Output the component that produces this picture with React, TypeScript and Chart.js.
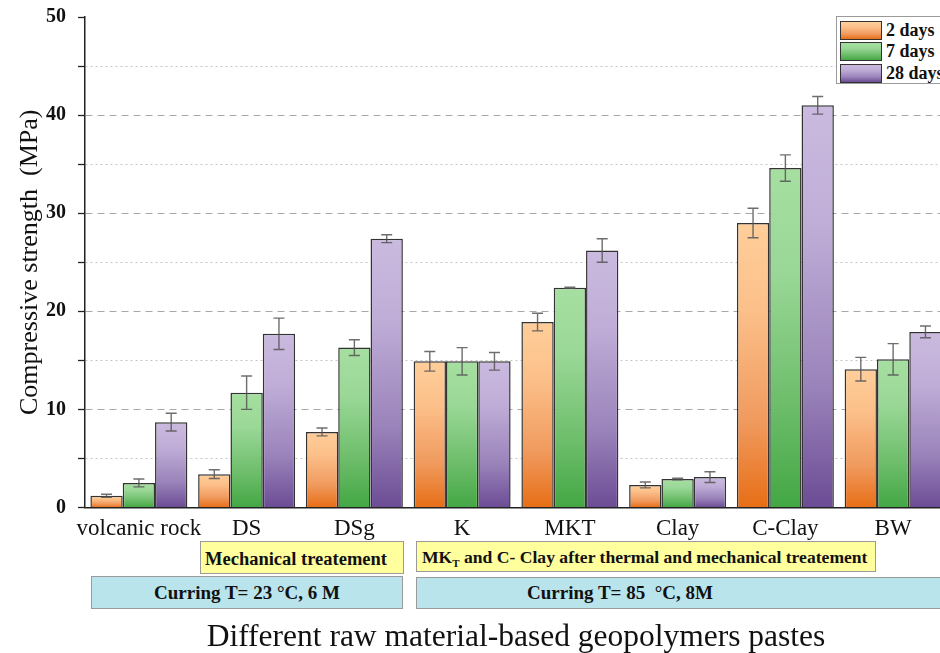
import React, { useEffect, useRef } from 'react';
import { Chart, registerables } from 'chart.js';

Chart.register(...registerables);

// Raw materials tested
const categories = ['volcanic rock', 'DS', 'DSg', 'K', 'MKT', 'Clay', 'C-Clay', 'BW'];

// Compressive strength (MPa) by curing age
const strength2d = [1.2, 3.4, 7.7, 14.9, 18.9, 2.3, 29.0, 14.1];
const strength7d = [2.5, 11.7, 16.3, 14.9, 22.4, 2.9, 34.6, 15.1];
const strength28d = [8.7, 17.7, 27.4, 14.9, 26.2, 3.1, 41.0, 17.9];

// Standard deviations (MPa)
const sd2d = [0.15, 0.45, 0.4, 1.0, 0.9, 0.3, 1.5, 1.2];
const sd7d = [0.4, 1.7, 0.8, 1.4, 0.05, 0.08, 1.35, 1.6];
const sd28d = [0.9, 1.6, 0.4, 0.9, 1.2, 0.55, 0.9, 0.6];

const seriesLabels = ['2 days', '7 days', '28 days'];
const yTicks = { min: 0, max: 50, step: 5 };

const SERIF = '"Liberation Serif", "Times New Roman", serif';

const palettes: string[][] = [
  ['#FFCE9A', '#FCC08A', '#F09A5E', '#E76E16'],
  ['#A6DFA1', '#9AD897', '#6DBD6A', '#43A744'],
  ['#CBBADF', '#BFADD7', '#9A83BA', '#6C4C95'],
];

function barFill(colors: string[]) {
  return (ctx: any) => {
    if (ctx.type !== 'data') return colors[2];
    const chart = ctx.chart;
    const y = chart.scales && chart.scales.y;
    if (!y || !chart.chartArea) return colors[2];
    const top = y.getPixelForValue(ctx.raw);
    const base = y.getPixelForValue(0);
    if (!isFinite(top) || !isFinite(base) || base - top < 1) return colors[2];
    const g = chart.ctx.createLinearGradient(0, top, 0, base);
    g.addColorStop(0, colors[0]);
    g.addColorStop(0.3, colors[1]);
    g.addColorStop(0.7, colors[2]);
    g.addColorStop(1, colors[3]);
    return g;
  };
}

const errorBarPlugin = {
  id: 'errorBars',
  afterDatasetsDraw(chart: any) {
    const { ctx } = chart;
    const y = chart.scales.y;
    ctx.save();
    ctx.strokeStyle = 'rgba(85,85,85,0.85)';
    ctx.lineWidth = 1.4;
    chart.data.datasets.forEach((ds: any, i: number) => {
      const meta = chart.getDatasetMeta(i);
      if (meta.hidden) return;
      meta.data.forEach((bar: any, j: number) => {
        const v = ds.data[j];
        const e = ds.errors[j];
        const x = bar.x;
        const yt = y.getPixelForValue(v + e);
        const yb = y.getPixelForValue(v - e);
        const cap = 5.5;
        ctx.beginPath();
        ctx.moveTo(x, yt);
        ctx.lineTo(x, yb);
        ctx.moveTo(x - cap, yt);
        ctx.lineTo(x + cap, yt);
        ctx.moveTo(x - cap, yb);
        ctx.lineTo(x + cap, yb);
        ctx.stroke();
      });
    });
    ctx.restore();
  },
};

function swatchCss(colors: string[]) {
  return `linear-gradient(to bottom, ${colors[0]} 0%, ${colors[1]} 30%, ${colors[2]} 70%, ${colors[3]} 100%)`;
}

export default function App() {
  const canvasRef = useRef<HTMLCanvasElement | null>(null);

  useEffect(() => {
    const canvas = canvasRef.current;
    if (!canvas) return;
    const values = [strength2d, strength7d, strength28d];
    const errors = [sd2d, sd7d, sd28d];
    const chart = new Chart(canvas, {
      type: 'bar',
      data: {
        labels: categories,
        datasets: values.map((d, i) => ({
          label: seriesLabels[i],
          data: d,
          errors: errors[i],
          backgroundColor: barFill(palettes[i]),
          borderColor: '#333333',
          borderWidth: 1.5,
          categoryPercentage: 0.9,
          barPercentage: 1.0,
        })) as any,
      },
      options: {
        responsive: false,
        animation: false,
        devicePixelRatio: 1,
        layout: { padding: { top: 17, right: 3, left: 0, bottom: 0 } },
        plugins: {
          legend: { display: false },
          tooltip: { enabled: false },
        },
        scales: {
          x: {
            grid: { display: false },
            border: { display: true, color: '#222', width: 1.5 },
            ticks: {
              color: '#111',
              padding: 0,
              maxRotation: 0,
              minRotation: 0,
              autoSkip: false,
              font: { family: SERIF, size: 23 },
            },
            title: {
              display: true,
              text: 'Different raw material-based geopolymers pastes',
              color: '#111',
              font: { family: SERIF, size: 31.5, lineHeight: 1 },
              padding: { top: 0, bottom: 0 },
            },
            afterFit: (scale: any) => {
              scale.height = 145.5;
            },
          },
          y: {
            min: yTicks.min,
            max: yTicks.max,
            ticks: {
              stepSize: yTicks.step,
              color: '#111',
              padding: 12,
              font: { family: SERIF, size: 20, weight: 'bold' },
              callback: (v: any) => (Number(v) % 10 === 0 ? String(v) : ''),
            },
            grid: {
              drawTicks: true,
              tickLength: 7,
              tickColor: '#222',
              tickWidth: 1.3,
              lineWidth: 1,
              color: (c: any) => {
                const v = c.tick ? c.tick.value : 0;
                if (v === yTicks.min || v === yTicks.max) return 'rgba(0,0,0,0)';
                return v % 10 === 0 ? '#A8A8A8' : '#C4C4C4';
              },
            },
            border: {
              display: true,
              color: '#222',
              width: 1.5,
              dash: (c: any) => {
                if (!c || !c.tick) return [];
                return c.tick.value % 10 === 0 ? [7, 5] : [2, 3];
              },
            },
            title: {
              display: true,
              text: 'Compressive strength  (MPa)',
              color: '#111',
              font: { family: SERIF, size: 26 },
              padding: { top: 15, bottom: 0 },
            },
            afterFit: (scale: any) => {
              scale.width = 85;
              scale.paddingTop = 6;
              scale.paddingBottom = 6;
            },
          },
        },
      } as any,
      plugins: [errorBarPlugin],
    });
    return () => chart.destroy();
  }, []);

  const boxText: React.CSSProperties = {
    position: 'absolute',
    fontFamily: SERIF,
    fontWeight: 'bold',
    color: '#111',
    whiteSpace: 'pre',
    boxSizing: 'border-box',
    border: '1px solid #9A9A9A',
    display: 'flex',
    alignItems: 'center',
  };

  return (
    <div
      style={{
        position: 'fixed',
        left: 0,
        top: 0,
        width: 940,
        height: 653,
        overflow: 'hidden',
        background: '#fff',
      }}
    >
      <canvas ref={canvasRef} width={950} height={653} style={{ display: 'block', width: 950, height: 653 }} />

      {/* Legend */}
      <div
        style={{
          position: 'absolute',
          left: 836,
          top: 16,
          width: 130,
          height: 68,
          background: '#fff',
          border: '1px solid #9A9A9A',
          boxSizing: 'border-box',
        }}
      >
        {seriesLabels.map((s, i) => (
          <div key={s} style={{ position: 'absolute', left: 3, top: 4 + i * 21.3, height: 19, display: 'flex', alignItems: 'center' }}>
            <div
              style={{
                width: 42,
                height: 19,
                boxSizing: 'border-box',
                border: '1.5px solid #333',
                background: swatchCss(palettes[i]),
              }}
            />
            <span style={{ marginLeft: 4, fontFamily: SERIF, fontWeight: 'bold', fontSize: 18, color: '#111', whiteSpace: 'pre' }}>{s}</span>
          </div>
        ))}
      </div>

      {/* Treatment annotations */}
      <div style={{ ...boxText, left: 200, top: 541, width: 204, height: 33, background: '#FFFF9E', fontSize: 18.5, paddingLeft: 4, paddingTop: 3 }}>
        Mechanical treatement
      </div>
      <div style={{ ...boxText, left: 416, top: 541, width: 460, height: 31, background: '#FFFF9E', fontSize: 17.6, paddingLeft: 5, paddingTop: 2 }}>
        <span>
          MK<sub style={{ fontSize: 11, verticalAlign: '-4px', lineHeight: 0 }}>T</sub> and C- Clay after thermal and mechanical treatement
        </span>
      </div>

      {/* Curing conditions */}
      <div style={{ ...boxText, left: 91, top: 576, width: 312, height: 33, background: '#B9E4EC', fontSize: 19, justifyContent: 'center' }}>
        Curring T= 23 °C, 6 M
      </div>
      <div style={{ ...boxText, left: 416, top: 577, width: 560, height: 32, background: '#B9E4EC', fontSize: 19, paddingLeft: 110 }}>
        Curring T= 85  °C, 8M
      </div>
    </div>
  );
}
